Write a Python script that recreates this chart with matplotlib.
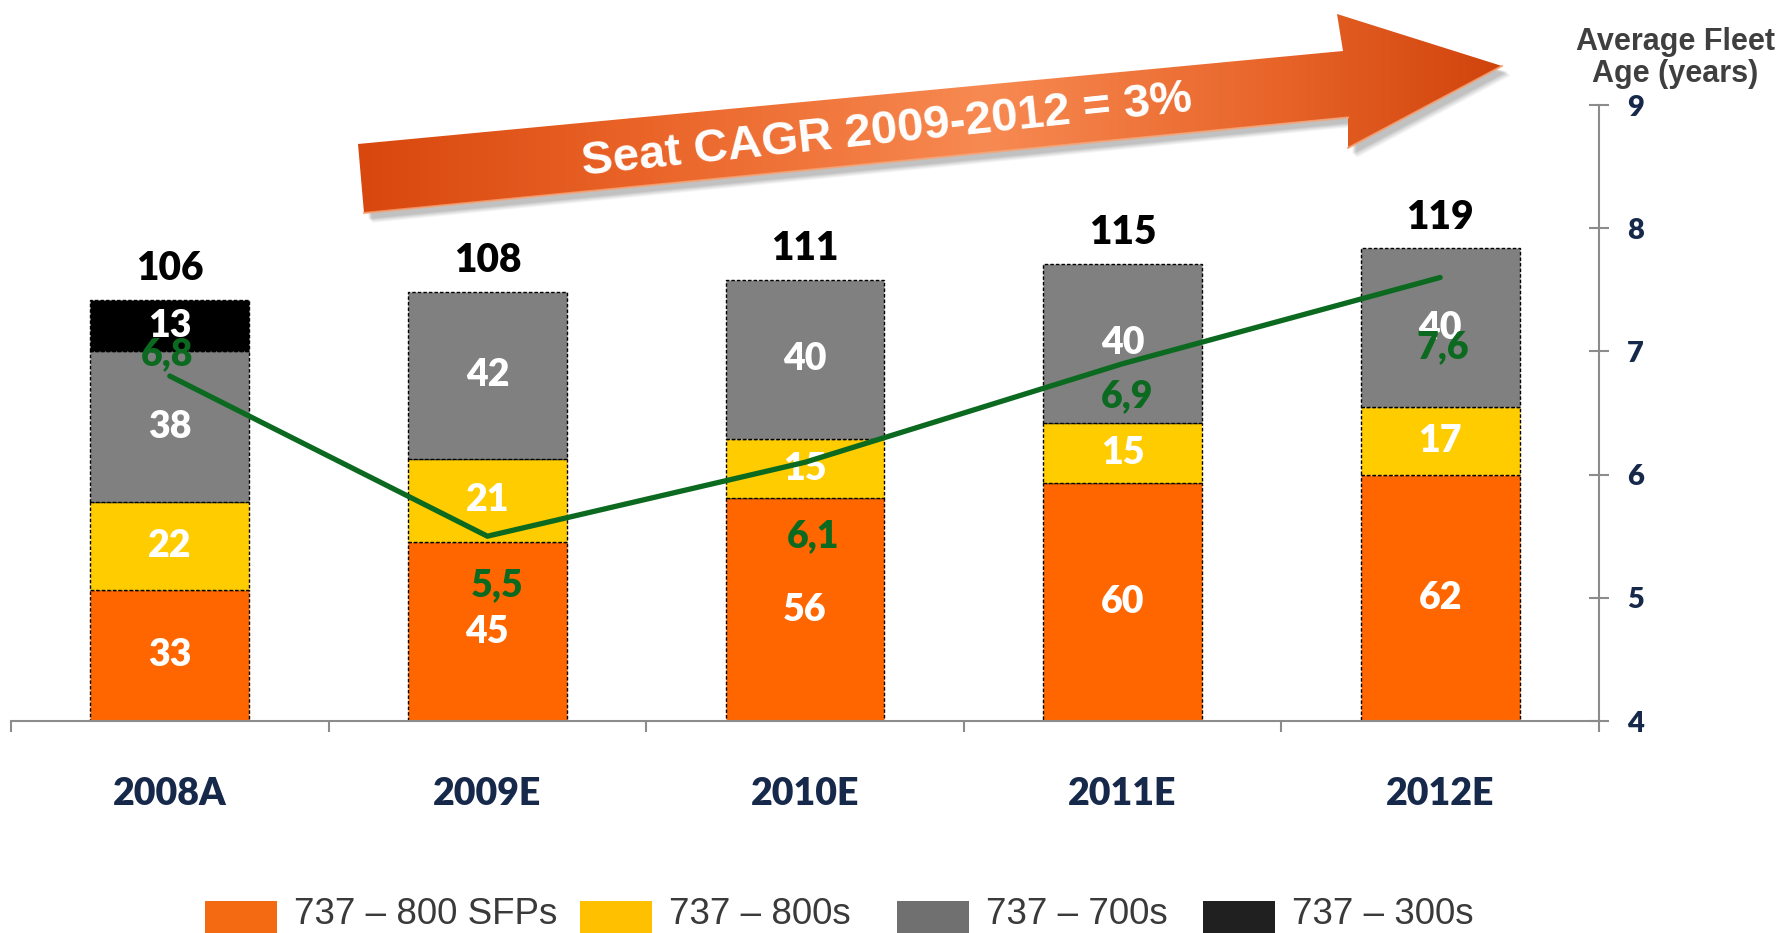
import numpy as np
import matplotlib
matplotlib.use("Agg")
import matplotlib.pyplot as plt
from matplotlib.patches import Polygon, Rectangle
from matplotlib.colors import LinearSegmentedColormap

# ---------------- data ----------------
categories = ["2008A", "2009E", "2010E", "2011E", "2012E"]
series_names = ["737 – 800 SFPs", "737 – 800s", "737 – 700s", "737 – 300s"]
sfp_800 = [33, 45, 56, 60, 62]
std_800 = [22, 21, 15, 15, 17]
s700 = [38, 42, 40, 40, 40]
s300 = [13, 0, 0, 0, 0]
totals = [106, 108, 111, 115, 119]
fleet_age = [6.8, 5.5, 6.1, 6.9, 7.6]
age_labels = ["6,8", "5,5", "6,1", "6,9", "7,6"]
right_ticks = [4, 5, 6, 7, 8, 9]
arrow_text = "Seat CAGR 2009-2012 = 3%"
right_axis_title = "Average Fleet\nAge (years)"

# ---------------- style ----------------
W, H = 1784, 933
bar_colors = ["#FF6600", "#FFCC00", "#808080", "#000000"]
legend_colors = ["#F46A12", "#FFC000", "#707070", "#202020"]
green = "#0B6A1F"
navy = "#17294A"
axis_gray = "#8C8C8C"
bold_font = ["Lato", "DejaVu Sans"]
arial = ["Liberation Sans", "DejaVu Sans"]
heavy = "heavy"

fig = plt.figure(figsize=(W / 100, H / 100), dpi=100)

# ---------------- main axes ----------------
ax = fig.add_axes([11 / W, 1 - 721 / H, 1588 / W, 616 / H])
x = np.arange(len(categories))
stack = [sfp_800, std_800, s700, s300]
bottom = np.zeros(len(categories))
for vals, col in zip(stack, bar_colors):
    vals = np.array(vals, dtype=float)
    mask = vals > 0
    ax.bar(x[mask], vals[mask], 0.5, bottom=bottom[mask], color=col,
           edgecolor="black", linewidth=1.0, linestyle=(0, (2.5, 1.5)), zorder=2)
    for xi, v, b in zip(x[mask], vals[mask], bottom[mask]):
        ax.text(xi, b + v / 2, f"{int(v)}", ha="center", va="center",
                color="white", fontsize=27, fontweight=heavy, family=bold_font, zorder=3)
    bottom = bottom + vals

for xi, t in zip(x, totals):
    ax.annotate(f"{t}", (xi, t), xytext=(0, 9), textcoords="offset points",
                ha="center", va="bottom", fontsize=28, fontweight=heavy,
                family=bold_font, color="black")

ax.set_xlim(-0.5, len(categories) - 0.5)
ax.set_ylim(0, 155)
ax.set_yticks([])
for s in ["left", "top", "right"]:
    ax.spines[s].set_visible(False)
ax.spines["bottom"].set_color(axis_gray)
ax.spines["bottom"].set_linewidth(1.5)
ax.set_xticks(x)
ax.set_xticklabels(categories, fontsize=27, fontweight=heavy, family=bold_font, color=navy)
ax.tick_params(axis="x", which="major", length=0, pad=40)
ax.set_xticks(np.arange(-0.5, len(categories)), minor=True)
ax.tick_params(axis="x", which="minor", length=8, width=1.5, color=axis_gray, direction="out")
ax.patch.set_alpha(0)

# ---------------- secondary axis (fleet age) ----------------
ax2 = ax.twinx()
ax2.set_ylim(4, 9)
ax2.plot(x, fleet_age, color=green, linewidth=3.8, solid_capstyle="round", zorder=4)
label_offsets = [(-2, 16), (7, -35), (6, -53), (3, -23), (2, -50)]
for xi, v, lab, off in zip(x, fleet_age, age_labels, label_offsets):
    ax2.annotate(lab, (xi, v), xytext=off, textcoords="offset points",
                 ha="center", va="center", fontsize=27, fontweight=heavy,
                 family=bold_font, color=green, zorder=5)
for s in ["left", "top", "bottom"]:
    ax2.spines[s].set_visible(False)
ax2.spines["right"].set_color(axis_gray)
ax2.spines["right"].set_linewidth(1.5)
ax2.set_yticks(right_ticks)
ax2.set_yticklabels([str(t) for t in right_ticks], fontsize=21, fontweight=heavy,
                    family=bold_font, color=navy)
ax2.tick_params(axis="y", direction="inout", length=14, width=1.5, color=axis_gray, pad=13)

fig.text(1675 / W, 1 - 58 / H, right_axis_title, ha="center", va="center",
         fontsize=22, fontweight="bold", family=arial, color="#3F3F3F", linespacing=1.12)

# ---------------- decorative arrow (pixel overlay) ----------------
deco = fig.add_axes([0, 0, 1, 1], zorder=-1)
deco.set_xlim(0, W)
deco.set_ylim(H, 0)
deco.axis("off")
deco.patch.set_alpha(0)

arrow_pts = np.array([(358, 144), (1343, 51), (1337, 14), (1502, 66),
                      (1348, 148), (1348, 117), (364, 213)], dtype=float)
# soft shadow
for k, a in zip(range(6, 0, -1), [0.05, 0.06, 0.07, 0.08, 0.09, 0.10]):
    deco.add_patch(Polygon(arrow_pts + np.array([4 + k * 0.8, 5 + k * 0.8]), closed=True,
                           facecolor="#606060", edgecolor="none", alpha=a, zorder=1))
arrow_poly = Polygon(arrow_pts, closed=True, facecolor="none", edgecolor="none", zorder=2)
deco.add_patch(arrow_poly)
grad_cmap = LinearSegmentedColormap.from_list(
    "arr", [(0.0, "#D8470E"), (0.25, "#EA6428"), (0.55, "#F78A52"),
            (0.8, "#E8652A"), (1.0, "#D0440C")])
grad = np.linspace(0, 1, 512).reshape(1, -1)
im = deco.imshow(grad, cmap=grad_cmap, aspect="auto", zorder=3,
                 extent=[358, 1502, 213, 14], interpolation="bicubic")
im.set_clip_path(arrow_poly)
# light bevel along lower edge
deco.plot([364, 1348], [213, 117.5], color="#F7A273", linewidth=1.5, alpha=0.8, zorder=4)
deco.plot([1348, 1502], [148, 66], color="#F7A273", linewidth=1.5, alpha=0.8, zorder=4)

deco.text(887, 131, arrow_text, rotation=6, rotation_mode="anchor",
          ha="center", va="center", fontsize=34, fontweight="bold",
          family=arial, color="white", zorder=5)

# ---------------- legend (manual, bottom, clipped by figure edge) ----------------
patch_x = [205, 580, 897, 1203]
for px, col, name in zip(patch_x, legend_colors, series_names):
    deco.add_patch(Rectangle((px, 901), 72, 45, facecolor=col, edgecolor="none"))
    deco.text(px + 89, 915, name, ha="left", va="center", fontsize=26.5,
              family=arial, color="#3A3A3A")

fig.savefig("out.png", dpi=100)
